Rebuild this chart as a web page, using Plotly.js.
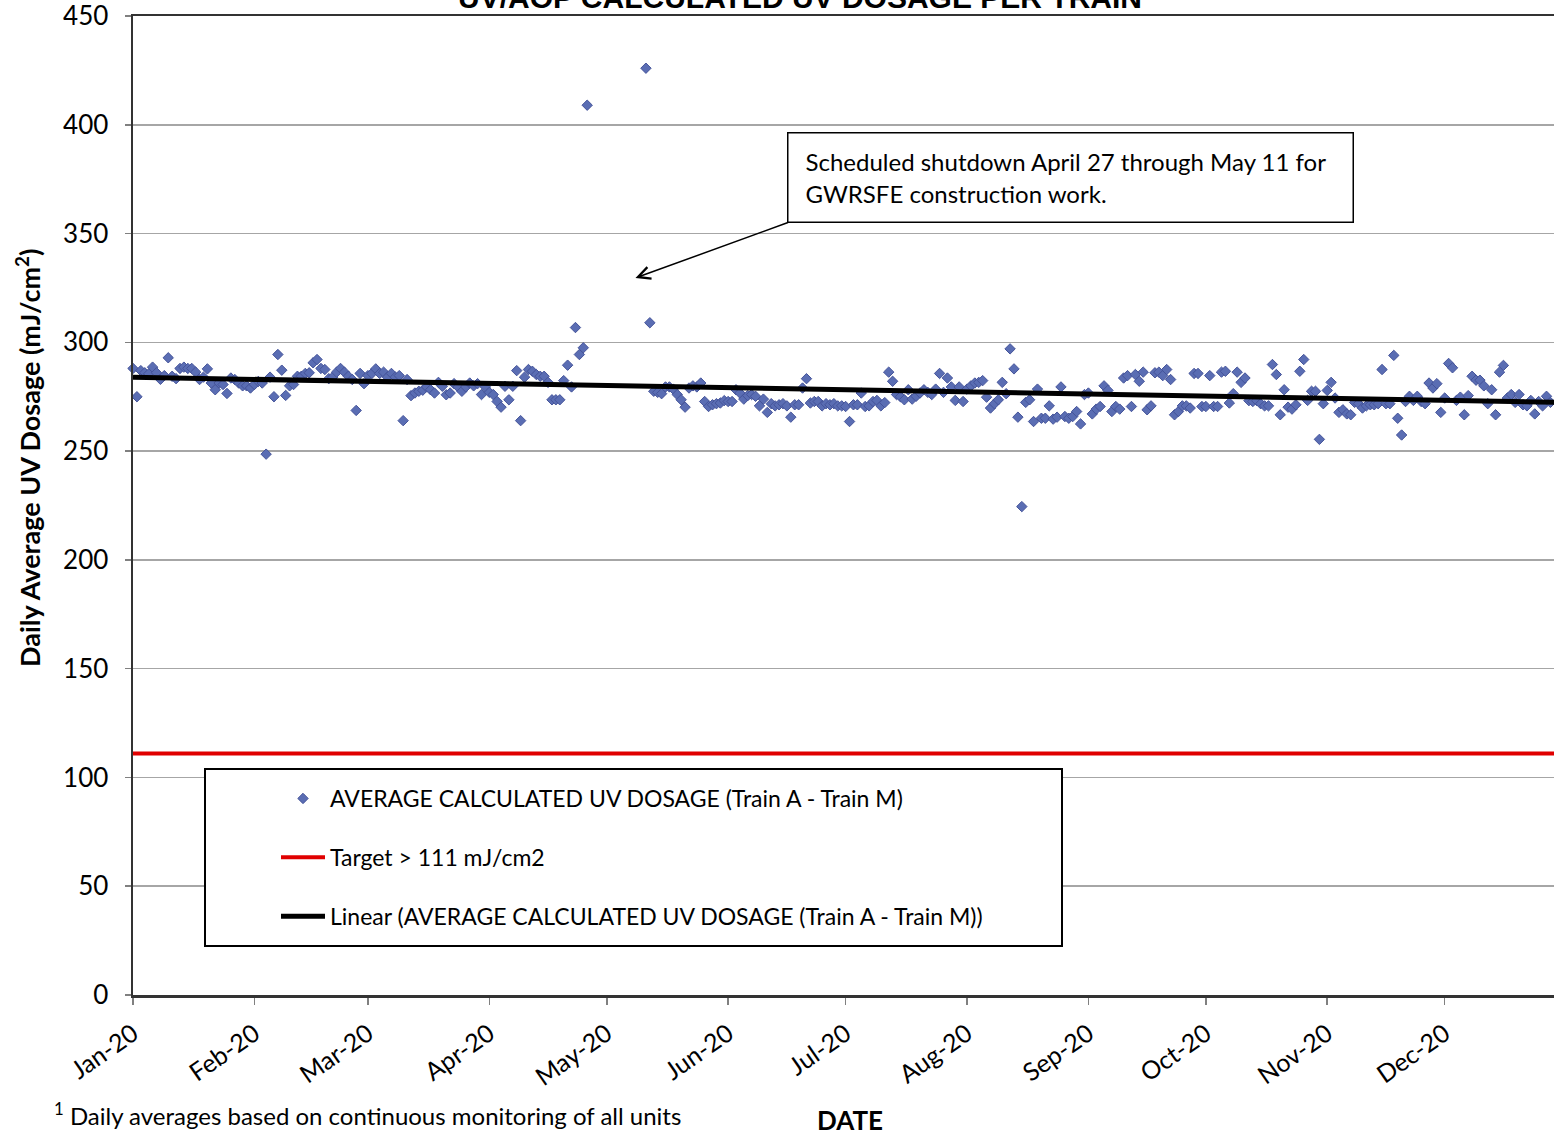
<!DOCTYPE html>
<html>
<head>
<meta charset="utf-8">
<script src="https://cdn.plot.ly/plotly-3.0.1.min.js"></script>
<style>
html,body{margin:0;padding:0;background:#ffffff;}
#chart{width:1554px;height:1132px;}
</style>
</head>
<body>
<div id="chart"></div>
<script>
// ---- DATA ----
const startDate = '2020-01-01';
const jan = [288, 275, 287, 286, 285.5, 288.6, 286, 283, 284.7, 292.9, 284.4, 283.3, 288, 288.6, 288, 288, 286.3, 282.9, 284, 287.8, 281.3, 278.2, 281.3, 280.6, 276.5, 283.6, 282.9, 281.3, 280, 280, 279];
const feb = [280.6, 282, 281.3, 248.6, 284, 275, 294.4, 287.2, 275.6, 280, 280.6, 284.4, 284.4, 285.7, 286, 290.6, 292.1, 288, 287.5, 283.3, 284, 286.3, 288, 286.3, 284.4, 282.9, 268.7, 285.7, 281];
const mar = [284.7, 285.7, 287.8, 285.7, 286.3, 284, 285.7, 284, 284.7, 264, 282.9, 275.5, 276.7, 277.5, 278, 279.5, 278.2, 276.7, 281.6, 279.8, 275.9, 276.7, 281, 279.5, 277.5, 279.5, 281.3, 280, 281, 276, 279.5];
const apr = [277, 276, 272.8, 270.2, 279.8, 273.6, 279.8, 287, 264, 284, 287.5, 286.7, 285.2, 284.4, 284.4, 281.6, 273.6, 273.6, 273.6, 282.4, 289.5, 279.5, 306.8, 294.4, 297.5, 409, null, null, null, null];
const may = [null, null, null, null, null, null, null, null, null, null, 426, 309, 277.5, 277, 276.4, 279.5, 279.5, 278.5, 276, 273.6, 270.2, 279, 280, 279.5, 281.3, 272.8, 270.5, 271.3, 271.8, 272.1, 273.2];
const jun = [272.8, 272.8, 278.2, 276.7, 273.9, 275.5, 276, 275.2, 270.8, 273.9, 267.8, 271.8, 270.8, 271.3, 271.8, 270.8, 265.6, 271.3, 271.3, 279, 283.3, 272.1, 272.8, 272.8, 270.8, 271.8, 271.3, 271.8, 270.8, 270.8];
const jul = [270.5, 263.6, 271.3, 271.3, 276.7, 270.5, 270.8, 272.8, 273.3, 270.8, 272.3, 286.3, 282.1, 276, 275, 273.6, 278.2, 273.9, 275.2, 276.7, 278.2, 277, 276, 278.5, 285.7, 277, 283.6, 279.5, 273.3, 279.5, 272.8];
const aug = [278.5, 280, 281.3, 281.6, 282.4, 274.8, 269.8, 271.8, 273.6, 281.6, 276.4, 297, 287.8, 265.6, 224.5, 272.4, 273.6, 263.6, 278.5, 265.1, 265.1, 270.8, 264.7, 265.6, 279.5, 265.9, 265.1, 265.9, 268.2, 262.5, 276];
const sep = [276.7, 267.1, 269.3, 270.5, 280, 277.9, 268.2, 270.5, 269.3, 283.6, 284.7, 270.5, 285.2, 282.1, 286.3, 269, 270.8, 286, 286.3, 284.7, 287.5, 282.9, 266.7, 268.2, 270.8, 270.8, 269.8, 285.7, 285.7, 270.5];
const oct = [270.5, 284.7, 270.5, 270.5, 286.3, 286.7, 272.1, 276.4, 286.3, 281.6, 283.6, 273.2, 272.8, 273.2, 271.8, 270.8, 270.8, 289.8, 285.2, 266.7, 278.2, 270.2, 269.3, 271.3, 286.7, 292.1, 273.3, 277.5, 277.5, 255.4, 271.8];
const nov = [277.9, 281.6, 274.4, 267.8, 269, 267.1, 266.7, 272.4, 271.8, 269.8, 270.8, 271.3, 271.3, 271.8, 287.5, 271.8, 271.8, 294, 265.1, 257.4, 272.8, 275.2, 273.3, 275.2, 272.8, 271.8, 281.3, 279, 281, 267.8];
const dec = [274.4, 290.3, 288.3, 273.3, 274.8, 266.7, 275.5, 284.4, 282.6, 282.6, 280, 271.8, 278.2, 266.7, 286.3, 289.4, 274.4, 276, 272.4, 276, 271.3, 270.8, 273.3, 267.1, 272.8, 270.8, 275.2, 272.4];
const targetDose = 111;
const trendEndDate = '2020-12-31';
const seriesName = 'AVERAGE CALCULATED UV DOSAGE (Train A - Train M)';
const targetName = 'Target > 111 mJ/cm2';
const trendName = 'Linear (AVERAGE CALCULATED UV DOSAGE (Train A - Train M))';
const chartTitle = 'UV/AOP CALCULATED UV DOSAGE PER TRAIN';
const xTitle = 'DATE';
const yTitle = 'Daily Average UV Dosage (mJ/cm<sup>2</sup>)';
const noteText = 'Scheduled shutdown April 27 through May 11 for<br>GWRSFE construction work.';
const footnote = '<sup>1</sup> Daily averages based on continuous monitoring of all units';

// ---- build series ----
const dosage = [].concat(jan, feb, mar, apr, may, jun, jul, aug, sep, oct, nov, dec);
const t0 = Date.parse(startDate + 'T00:00:00Z');
const DAY = 86400000;
const dates = dosage.map((_, i) => new Date(t0 + i * DAY).toISOString().slice(0, 10));

// least-squares linear trend (like the spreadsheet trendline)
let n = 0, sx = 0, sy = 0, sxx = 0, sxy = 0;
dosage.forEach((v, i) => { if (v !== null) { n++; sx += i; sy += v; sxx += i * i; sxy += i * v; } });
const slope = (n * sxy - sx * sy) / (n * sxx - sx * sx);
const intercept = (sy - slope * sx) / n;
const endIdx = Math.round((Date.parse(trendEndDate + 'T00:00:00Z') - t0) / DAY);

const FONT = 'Lato, "Open Sans", sans-serif';
const W = 1554, H = 1132, L = 133, T = 16, R = 0, B = 137;
const pw = W - L - R, ph = H - T - B;
const px = v => (v - L) / pw;          // pixel -> paper x
const py = v => (H - B - v) / ph;      // pixel -> paper y

const traces = [
  {
    type: 'scatter', mode: 'markers', name: seriesName,
    x: dates, y: dosage, legendgroup: 'a', cliponaxis: false,
    marker: { symbol: 'diamond', size: 8, color: '#5a6db3', line: { color: '#45549a', width: 1 } }
  },
  {
    type: 'scatter', mode: 'lines', name: targetName, legendgroup: 'b',
    x: [startDate, trendEndDate], y: [targetDose, targetDose],
    line: { color: '#e00000', width: 4 }
  },
  {
    type: 'scatter', mode: 'lines', name: trendName, legendgroup: 'c',
    x: [startDate, trendEndDate], y: [intercept, intercept + slope * endIdx],
    line: { color: '#000000', width: 5 }
  }
];

const layout = {
  width: W, height: H,
  margin: { l: L, r: R, t: T, b: B, pad: 0 },
  paper_bgcolor: '#ffffff', plot_bgcolor: '#ffffff',
  font: { family: FONT, size: 22, color: '#000000' },
  title: {
    text: '<b>' + chartTitle + '</b>',
    font: { family: '"Liberation Sans", Arial, sans-serif', size: 30, color: '#000000' },
    xref: 'container', x: 800 / W, xanchor: 'center',
    yref: 'container', y: 1 - 8 / H, yanchor: 'bottom'
  },
  showlegend: true,
  legend: {
    x: px(276), y: py(777), xanchor: 'left', yanchor: 'top',
    bgcolor: 'rgba(0,0,0,0)', borderwidth: 0,
    traceorder: 'grouped', tracegroupgap: 26, itemwidth: 44,
    font: { family: FONT, size: 23, color: '#000000' }
  },
  xaxis: {
    type: 'date', range: [startDate, '2020-12-28 22:00'],
    tick0: startDate, dtick: 'M1', tickformat: '%b-%y', tickangle: -35,
    ticks: 'outside', ticklen: 7, tickwidth: 1.5, tickcolor: '#808080',
    ticklabelstandoff: 5, ticklabeloverflow: 'allow',
    showline: true, linecolor: '#333333', linewidth: 2.5, mirror: true,
    showgrid: false, zeroline: false,
    tickfont: { family: FONT, size: 25, color: '#000000' }
  },
  yaxis: {
    range: [0, 450], dtick: 50, tick0: 0,
    ticks: 'outside', ticklen: 6, tickwidth: 1.5, tickcolor: '#808080',
    ticklabelstandoff: 11, ticklabeloverflow: 'allow',
    showline: true, linecolor: '#333333', linewidth: 2.5,
    showgrid: true, gridcolor: '#a6a6a6', gridwidth: 1.5, zeroline: false,
    tickfont: { family: FONT, size: 26, color: '#000000' }
  },
  shapes: [
    { type: 'rect', xref: 'paper', yref: 'paper', x0: px(205), x1: px(1062), y0: py(946), y1: py(769),
      fillcolor: '#ffffff', line: { color: '#000000', width: 2 }, layer: 'above' }
  ],
  annotations: [
    { xref: 'paper', yref: 'paper', x: px(787), y: py(132), xanchor: 'left', yanchor: 'top',
      text: noteText,
      align: 'left', showarrow: false, bgcolor: '#ffffff', bordercolor: '#000000', borderwidth: 1.5,
      borderpad: 17, width: 530, height: 54, valign: 'middle',
      font: { family: FONT, size: 24, color: '#000000' } },
    { xref: 'x', yref: 'y', axref: 'x', ayref: 'y',
      x: '2020-05-08 08:00', y: 329.6, ax: '2020-06-16 16:00', ay: 355.3,
      text: '', showarrow: true, arrowhead: 5, arrowsize: 1.6, arrowwidth: 1.5, arrowcolor: '#000000', standoff: 0 },
    { xref: 'paper', yref: 'paper', x: px(52), y: py(1114), xanchor: 'left', yanchor: 'middle',
      text: footnote,
      showarrow: false, font: { family: FONT, size: 24, color: '#000000' } },
    { xref: 'paper', yref: 'paper', x: px(850), y: py(1120), xanchor: 'center', yanchor: 'middle',
      text: '<b>' + xTitle + '</b>',
      showarrow: false, font: { family: FONT, size: 26, color: '#000000' } },
    { xref: 'paper', yref: 'paper', x: px(28), y: py(458), xanchor: 'center', yanchor: 'middle',
      text: '<b>' + yTitle + '</b>', textangle: -90,
      showarrow: false, font: { family: FONT, size: 27, color: '#000000' } }
  ]
};

Plotly.newPlot('chart', traces, layout, { displayModeBar: false, staticPlot: true });
</script>
</body>
</html>
